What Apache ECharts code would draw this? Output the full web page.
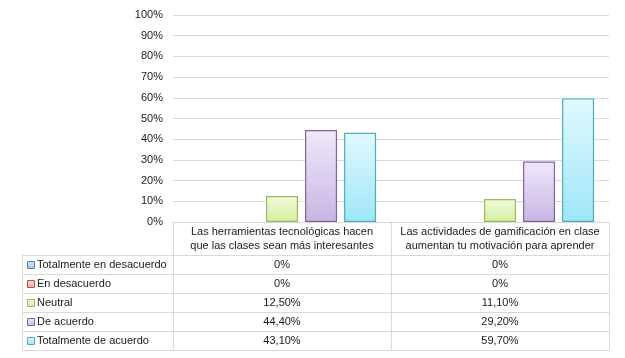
<!DOCTYPE html>
<html>
<head>
<meta charset="utf-8">
<script src="https://cdn.jsdelivr.net/npm/echarts@6/dist/echarts.min.js"></script>
<style>
html,body{margin:0;padding:0;background:#fff;}
#chart{width:625px;height:358px;}
</style>
</head>
<body>
<div id="chart"></div>
<script>
// ---- data ----
var categories = [
  'Las herramientas tecnológicas hacen\nque las clases sean más interesantes',
  'Las actividades de gamificación en clase\naumentan tu motivación para aprender'
];
var seriesNames = ['Totalmente en desacuerdo', 'En desacuerdo', 'Neutral', 'De acuerdo', 'Totalmente de acuerdo'];
var totDesacuerdo = [0, 0];
var enDesacuerdo = [0, 0];
var neutral = [0.125, 0.111];
var deAcuerdo = [0.444, 0.292];
var totAcuerdo = [0.431, 0.597];
var tableLabels = [
  ['0%', '0%'],
  ['0%', '0%'],
  ['12,50%', '11,10%'],
  ['44,40%', '29,20%'],
  ['43,10%', '59,70%']
];
var yTicks = [0, 0.1, 0.2, 0.3, 0.4, 0.5, 0.6, 0.7, 0.8, 0.9, 1];

// ---- styles ----
var borders = ['#4F81BD', '#C0504D', '#9BBB59', '#8064A2', '#4BACC6'];
var tops = ['#DCE6F4', '#F5DCDB', '#F2FBDD', '#EFE9F8', '#E1F9FE'];
var bottoms = ['#A7C0E3', '#E5A9A7', '#D3EFA0', '#C8B5E3', '#9FE6F8'];
var FONT = '"Liberation Sans", Arial, sans-serif';
var TXT = '#1a1a1a';
var GRIDC = '#D9D9D9';

function grad(i) {
  return new echarts.graphic.LinearGradient(0, 0, 0, 1, [
    {offset: 0, color: tops[i]}, {offset: 1, color: bottoms[i]}
  ]);
}

var allData = [totDesacuerdo, enDesacuerdo, neutral, deAcuerdo, totAcuerdo];

var chart = echarts.init(document.getElementById('chart'), null, {renderer: 'canvas'});

var series = allData.map(function (arr, i) {
  return {
    name: seriesNames[i],
    type: 'bar',
    barWidth: 32,
    barGap: '22%',
    data: arr.map(function (v) {
      return v === 0 ? {value: v, itemStyle: {borderWidth: 0, opacity: 0}} : v;
    }),
    itemStyle: {color: grad(i), borderColor: borders[i], borderWidth: 1.2},
    emphasis: {disabled: true},
    animation: false
  };
});

var gridLeft = 173, gridRight = 16, gridTop = 15, gridBottom = 136;

chart.setOption({
  backgroundColor: '#fff',
  animation: false,
  grid: {left: gridLeft, right: gridRight, top: gridTop, bottom: gridBottom, containLabel: false},
  xAxis: {
    type: 'category',
    data: categories,
    axisLine: {show: true, lineStyle: {color: GRIDC, width: 1}},
    axisTick: {show: false},
    axisLabel: {
      show: true, interval: 0, margin: 3,
      fontFamily: FONT, fontSize: 11, color: TXT, lineHeight: 14, align: 'center', verticalAlign: 'top'
    },
    splitLine: {show: false}
  },
  yAxis: {
    type: 'value',
    min: 0, max: 1, interval: 0.1,
    axisLine: {show: false},
    axisTick: {show: false},
    axisLabel: {
      margin: 10, fontFamily: FONT, fontSize: 11, color: TXT,
      formatter: function (v) { return Math.round(v * 100) + '%'; }
    },
    splitLine: {show: true, lineStyle: {color: GRIDC, width: 1}}
  },
  series: series
});

// ---- table below the axis ----
var x0 = chart.convertToPixel({xAxisIndex: 0}, categories[0]);
var x1 = chart.convertToPixel({xAxisIndex: 0}, categories[1]);
var colW = x1 - x0;
var plotL = gridLeft, plotR = 625 - gridRight;
var yZero = chart.convertToPixel({yAxisIndex: 0}, 0);
var headerH = 33, rowH = 19, tableL = 22;
var rowsTop = yZero + headerH;
var tableBottom = rowsTop + rowH * seriesNames.length;
var g = [];
var lineStyle = {stroke: GRIDC, lineWidth: 1};
function hline(x1_, x2_, y) {
  y = Math.round(y) + 0.5;
  g.push({type: 'line', silent: true, shape: {x1: x1_, y1: y, x2: x2_, y2: y}, style: lineStyle});
}
function vline(x, y1, y2) {
  x = Math.round(x) + 0.5;
  g.push({type: 'line', silent: true, shape: {x1: x, y1: y1, x2: x, y2: y2}, style: lineStyle});
}
// verticals
vline(plotL, yZero, tableBottom);
vline(plotL + colW, yZero, tableBottom);
vline(plotR, yZero, tableBottom);
vline(tableL, rowsTop, tableBottom);
// horizontals
for (var r = 0; r <= seriesNames.length; r++) {
  hline(tableL, plotR, rowsTop + r * rowH);
}
// row labels + keys + values
seriesNames.forEach(function (name, i) {
  var cy = rowsTop + i * rowH + rowH / 2;
  g.push({
    type: 'rect', silent: true,
    shape: {x: 27.5, y: Math.round(cy) - 3.5, width: 7, height: 7},
    style: {fill: grad(i), stroke: borders[i], lineWidth: 1}
  });
  g.push({
    type: 'text', silent: true,
    style: {x: 37, y: cy, text: name, fontFamily: FONT, fontSize: 11, fill: TXT, verticalAlign: 'middle', align: 'left'}
  });
  [x0, x1].forEach(function (cx, j) {
    g.push({
      type: 'text', silent: true,
      style: {x: cx, y: cy, text: tableLabels[i][j], fontFamily: FONT, fontSize: 11, fill: TXT, verticalAlign: 'middle', align: 'center'}
    });
  });
});
chart.setOption({graphic: {elements: g}});
</script>
</body>
</html>
